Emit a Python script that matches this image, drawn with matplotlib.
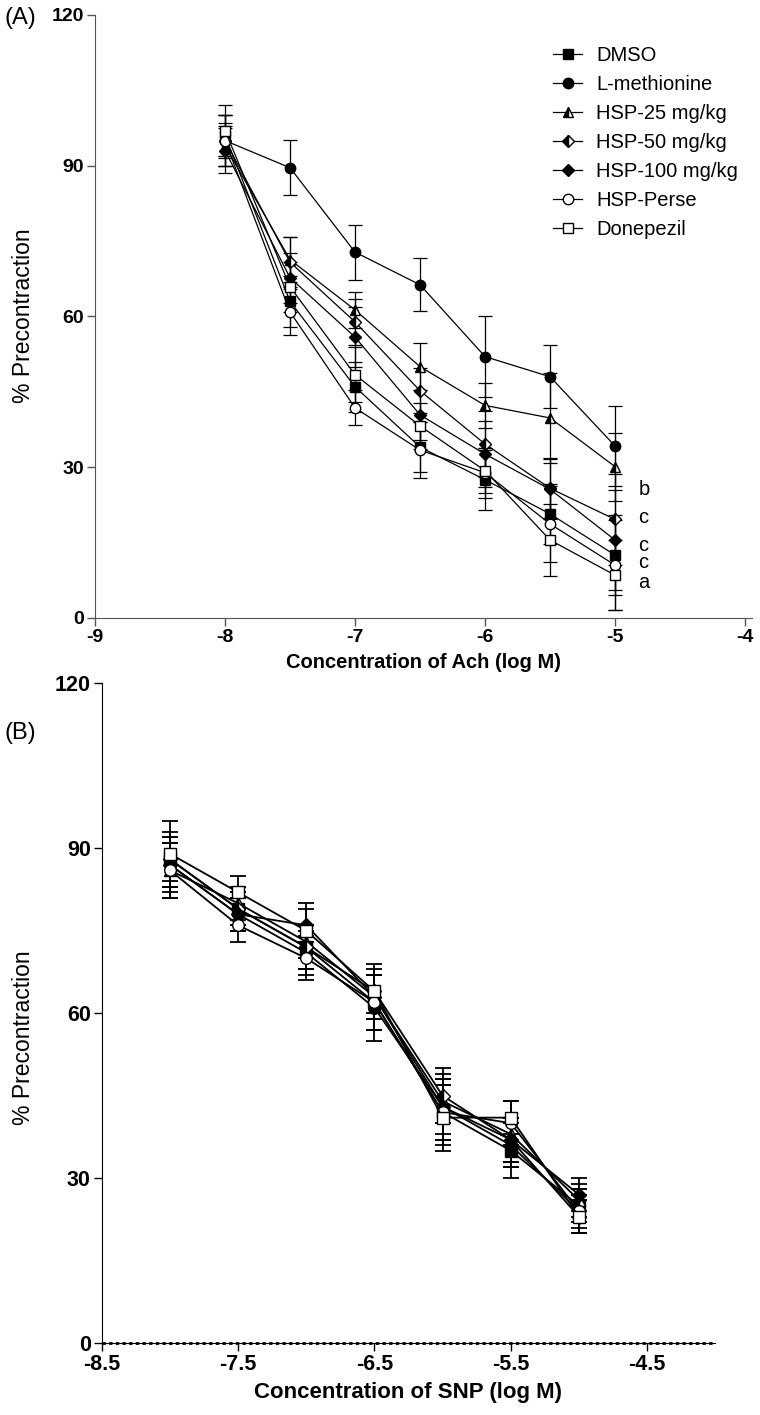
import matplotlib
matplotlib.use('Agg')
import matplotlib.pyplot as plt
from matplotlib.lines import Line2D

plt.rcParams['font.family'] = ['Liberation Sans', 'DejaVu Sans']
plt.rcParams['axes.unicode_minus'] = False

# valores
conc = [-8, -7.5, -7, -6.5, -6, -5.5, -5]
names = ['DMSO', 'L-methionine', 'HSP-25 mg/kg', 'HSP-50 mg/kg',
         'HSP-100 mg/kg', 'HSP-Perse', 'Donepezil']

a_xticks = [-9, -8, -7, -6, -5, -4]
a_xlabels = ['-9', '-8', '-7', '-6', '-5', '-4']
b_xticks = [-8.5, -7.5, -6.5, -5.5, -4.5]
b_xlabels = ['-8.5', '-7.5', '-6.5', '-5.5', '-4.5']
yticks = [0, 30, 60, 90, 120]
ylabels = ['0', '30', '60', '90', '120']

# panel A (Ach)
a_dmso = [96, 63, 46, 34, 27.5, 20.7, 12.5]
a_lmet = [95, 89.6, 72.8, 66.3, 52.0, 48.0, 34.2]
a_hsp25 = [94, 71.3, 61.3, 50.0, 42.3, 39.8, 30.1]
a_hsp50 = [95, 70.8, 58.9, 45.2, 34.6, 25.8, 19.6]
a_hsp100 = [93, 67.7, 55.9, 40.4, 32.6, 25.6, 15.5]
a_perse = [95, 60.9, 41.8, 33.4, 28.9, 18.7, 10.5]
a_done = [97, 65.9, 48.4, 38.2, 29.3, 15.5, 8.5]

a_dmso_err = [4, 5, 5, 5, 6, 6, 8]
a_lmet_err = [5, 5.5, 5.5, 5.3, 8, 6.3, 8]
a_hsp25_err = [4, 4.5, 3.5, 4.7, 4.5, 9, 6.8]
a_hsp50_err = [5, 5, 4.5, 4.5, 6.5, 6, 9]
a_hsp100_err = [4.5, 5, 6, 5, 6.5, 6, 10]
a_perse_err = [3.5, 4.5, 3.5, 5.5, 5, 7.5, 9]
a_done_err = [5, 5, 5.5, 4.5, 4.5, 7.2, 7]

# panel B (SNP)
b_dmso = [88, 79, 72, 62, 42, 35, 25]
b_lmet = [87, 78, 71, 61, 43, 36, 24]
b_hsp25 = [86, 80, 73, 63, 44, 38, 26]
b_hsp50 = [88, 79, 72, 64, 45, 37, 23]
b_hsp100 = [87, 78, 76, 63, 43, 37, 27]
b_perse = [86, 76, 70, 62, 42, 40, 24]
b_done = [89, 82, 75, 64, 41, 41, 23]

b_dmso_err = [5, 3, 4, 5, 5, 5, 3]
b_lmet_err = [4, 3, 4, 6, 6, 4, 3]
b_hsp25_err = [5, 3, 3, 4, 4, 6, 3]
b_hsp50_err = [4, 3, 4, 5, 5, 4, 3]
b_hsp100_err = [5, 3, 3, 4, 5, 4, 3]
b_perse_err = [5, 3, 4, 5, 6, 4, 4]
b_done_err = [6, 3, 5, 4, 6, 3, 3]

sig_labels = ['b', 'c', 'c', 'c', 'a']
sig_y = [25.6, 20.0, 14.5, 11.0, 7.0]

a_vals = [a_dmso, a_lmet, a_hsp25, a_hsp50, a_hsp100, a_perse, a_done]
a_errs = [a_dmso_err, a_lmet_err, a_hsp25_err, a_hsp50_err, a_hsp100_err, a_perse_err, a_done_err]
b_vals = [b_dmso, b_lmet, b_hsp25, b_hsp50, b_hsp100, b_perse, b_done]
b_errs = [b_dmso_err, b_lmet_err, b_hsp25_err, b_hsp50_err, b_hsp100_err, b_perse_err, b_done_err]

estilos = [
    dict(marker='s', mfc='black'),
    dict(marker='o', mfc='black'),
    dict(marker='^', mfc='black', fillstyle='left', markerfacecoloralt='white'),
    dict(marker='D', mfc='black', fillstyle='left', markerfacecoloralt='white', ms=6.5),
    dict(marker='D', mfc='black', ms=6.5),
    dict(marker='o', mfc='white'),
    dict(marker='s', mfc='white'),
]

fig = plt.figure(figsize=(7.6, 14.15), dpi=100)
axA = fig.add_axes([0.125, 0.5633, 0.864, 0.4261])
axB = fig.add_axes([0.134, 0.0509, 0.807, 0.4661])


def estilo(i, escala=1.0, lw=0.9):
    st = dict(ms=7.5, color='black', mec='black', lw=lw)
    st.update(estilos[i])
    st['ms'] = st['ms'] * escala
    return st


def dibujar(ax, vals, errs, escala=1.0, lw=0.9, cap=5):
    for i in range(len(vals)):
        ax.errorbar(conc, vals[i], yerr=errs[i], capsize=cap, elinewidth=lw,
                    capthick=lw, **estilo(i, escala, lw))


# --- panel A ---
dibujar(axA, a_vals, a_errs)
axA.set_xlim(-9, -3.95)
axA.set_ylim(0, 120)
axA.set_xticks(a_xticks, a_xlabels, fontsize=14, fontweight='bold')
axA.set_yticks(yticks, ylabels, fontsize=14, fontweight='bold')
axA.set_xlabel('Concentration of Ach (log M)', fontsize=14.5, fontweight='bold', labelpad=5)
for s, y in zip(sig_labels, sig_y):
    axA.text(-4.82, y, s, fontsize=14.5, va='center', ha='left')

handles = [Line2D([], [], **estilo(i)) for i in range(len(names))]
fig.legend(handles, names, loc='upper left', bbox_to_anchor=(553 / 760, 1 - 46 / 1415),
           frameon=False, fontsize=14.5, handlelength=1.45, labelspacing=0.5,
           handletextpad=0.7, borderpad=0, borderaxespad=0)
fig.text(5 / 760, 1 - 18 / 1415, '(A)', fontsize=17, va='center', ha='left')
fig.text(12 / 760, 1 - 316 / 1415, '% Precontraction', fontsize=16.5, rotation=90,
         va='center', ha='left')

# --- panel B ---
dibujar(axB, b_vals, b_errs, escala=1.12, lw=1.3, cap=6)
axB.set_xlim(-8.5, -4.0)
axB.set_ylim(0, 120)
axB.set_xticks(b_xticks, b_xlabels, fontsize=15.5, fontweight='bold')
axB.set_yticks(yticks, ylabels, fontsize=15.5, fontweight='bold')
axB.axhline(0, color='black', lw=2, ls=(0, (1.2, 1.2)), clip_on=False, zorder=5)
axB.set_xlabel('Concentration of SNP (log M)', fontsize=16, fontweight='bold', labelpad=5)
fig.text(5 / 760, 1 - 733 / 1415, '(B)', fontsize=17, va='center', ha='left')
fig.text(12 / 760, 1 - 1038 / 1415, '% Precontraction', fontsize=16.5, rotation=90,
         va='center', ha='left')

for ax, col in ((axA, '#555555'), (axB, 'black')):
    ax.spines['top'].set_visible(False)
    ax.spines['right'].set_visible(False)
    ax.spines['left'].set_color(col)
    ax.spines['bottom'].set_color(col)
    ax.tick_params(direction='out', length=6, width=1, color=col, labelcolor='black',
                   pad=2)

fig.savefig('out.png', dpi=100)
